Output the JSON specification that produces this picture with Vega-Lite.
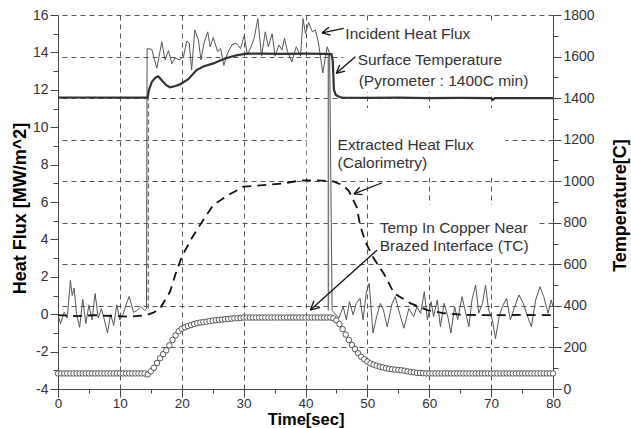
{
  "$schema": "https://vega.github.io/schema/vega-lite/v6.json",
  "width": 495,
  "height": 374,
  "autosize": {"type": "none"},
  "padding": {"left": 58, "top": 15, "right": 78, "bottom": 39},
  "background": "white",
  "config": {
    "view": {"stroke": null},
    "font": "Liberation Sans",
    "axis": {
      "labelFont": "Liberation Sans",
      "labelFontSize": 14,
      "labelColor": "#333",
      "titleFont": "Liberation Sans",
      "titleFontSize": 18,
      "titleFontWeight": "bold",
      "titleColor": "#000",
      "domainColor": "#444",
      "tickColor": "#444",
      "labelFlush": false,
      "labelOverlap": false,
      "labelPadding": 2,
      "gridColor": "#555",
      "gridDash": [5, 4],
      "gridWidth": 1
    }
  },
  "datasets": {
    "inc": [
      {"t": 0, "hf": 0.0}, {"t": 0.4, "hf": -0.5}, {"t": 1.0, "hf": 0.1}, {"t": 1.5, "hf": -0.2}, {"t": 2.0, "hf": 1.8}, {"t": 2.3, "hf": 1.0}, {"t": 2.6, "hf": 1.4}, {"t": 3.0, "hf": 0.0}, {"t": 3.5, "hf": -0.7}, {"t": 4.0, "hf": 0.8}, {"t": 4.5, "hf": -0.5}, {"t": 5.0, "hf": 0.5}, {"t": 5.5, "hf": -0.3}, {"t": 6.0, "hf": 1.1}, {"t": 6.5, "hf": -0.2}, {"t": 7.0, "hf": 0.3}, {"t": 7.5, "hf": -0.3}, {"t": 8.0, "hf": -1.0}, {"t": 8.5, "hf": 0.0}, {"t": 9.0, "hf": -0.6}, {"t": 9.5, "hf": 0.5}, {"t": 10.0, "hf": -0.3}, {"t": 10.5, "hf": 0.0}, {"t": 11.0, "hf": 0.5}, {"t": 11.5, "hf": 0.95}, {"t": 12.2, "hf": 0.1}, {"t": 12.8, "hf": 0.2}, {"t": 13.4, "hf": 0.4}, {"t": 14.0, "hf": 0.2}, {"t": 14.3, "hf": 0.3},
      {"t": 14.4, "hf": 14.2}, {"t": 15.15, "hf": 14.17}, {"t": 15.97, "hf": 13.15}, {"t": 16.78, "hf": 14.57}, {"t": 17.3, "hf": 13.6}, {"t": 17.85, "hf": 14.1}, {"t": 18.4, "hf": 13.4}, {"t": 18.9, "hf": 13.7}, {"t": 19.7, "hf": 13.6}, {"t": 20.3, "hf": 13.8}, {"t": 20.8, "hf": 14.6}, {"t": 21.2, "hf": 14.5}, {"t": 21.6, "hf": 13.06}, {"t": 22.1, "hf": 15.2}, {"t": 22.7, "hf": 14.66}, {"t": 23.1, "hf": 13.6}, {"t": 23.6, "hf": 14.5}, {"t": 24.2, "hf": 15.1}, {"t": 24.6, "hf": 14.3}, {"t": 25.1, "hf": 14.8}, {"t": 25.8, "hf": 14.04}, {"t": 26.3, "hf": 14.2}, {"t": 26.8, "hf": 13.3}, {"t": 27.4, "hf": 13.95}, {"t": 28.1, "hf": 14.4}, {"t": 28.8, "hf": 14.5}, {"t": 29.5, "hf": 14.2}, {"t": 30.1, "hf": 14.9}, {"t": 30.6, "hf": 13.86}, {"t": 31.2, "hf": 14.3}, {"t": 31.7, "hf": 14.75}, {"t": 32.3, "hf": 15.8}, {"t": 32.9, "hf": 13.8}, {"t": 33.5, "hf": 15.1}, {"t": 34.0, "hf": 14.3}, {"t": 34.6, "hf": 15.0}, {"t": 35.1, "hf": 13.8}, {"t": 35.7, "hf": 14.4}, {"t": 36.2, "hf": 14.13}, {"t": 36.6, "hf": 14.75}, {"t": 37.1, "hf": 14.04}, {"t": 37.8, "hf": 13.5}, {"t": 38.5, "hf": 14.3}, {"t": 39.2, "hf": 13.8}, {"t": 39.6, "hf": 15.8}, {"t": 40.0, "hf": 15.0}, {"t": 40.5, "hf": 15.6}, {"t": 41.1, "hf": 15.1}, {"t": 41.6, "hf": 15.2}, {"t": 42.1, "hf": 14.5}, {"t": 42.8, "hf": 12.9}, {"t": 43.5, "hf": 14.3}, {"t": 43.9, "hf": 13.95},
      {"t": 44.3, "hf": 0.2}, {"t": 44.7, "hf": 0.05}, {"t": 45.4, "hf": -0.2}, {"t": 46.1, "hf": 0.4}, {"t": 46.6, "hf": -0.3}, {"t": 47.1, "hf": 0.67}, {"t": 47.7, "hf": -0.04}, {"t": 48.2, "hf": 0.58}, {"t": 48.8, "hf": 0.85}, {"t": 49.3, "hf": -0.3}, {"t": 49.8, "hf": 1.1}, {"t": 50.3, "hf": 1.65}, {"t": 50.9, "hf": -1.0}, {"t": 51.5, "hf": -0.13}, {"t": 52.1, "hf": 0.58}, {"t": 52.6, "hf": 0.22}, {"t": 53.2, "hf": -0.67}, {"t": 54.0, "hf": 0.58}, {"t": 54.5, "hf": 0.94}, {"t": 55.2, "hf": 0.05}, {"t": 55.9, "hf": -0.75}, {"t": 56.7, "hf": 0.3}, {"t": 57.5, "hf": -0.13}, {"t": 58.0, "hf": 0.4}, {"t": 58.6, "hf": 0.05}, {"t": 59.2, "hf": 1.2}, {"t": 59.7, "hf": -0.3}, {"t": 60.3, "hf": 0.67}, {"t": 60.7, "hf": -0.13}, {"t": 61.3, "hf": 0.76}, {"t": 61.8, "hf": -0.67}, {"t": 62.4, "hf": 0.58}, {"t": 63.0, "hf": -0.13}, {"t": 63.5, "hf": -1.0}, {"t": 64.1, "hf": 0.4}, {"t": 64.6, "hf": -0.3}, {"t": 65.3, "hf": 0.94}, {"t": 65.9, "hf": 0.05}, {"t": 66.4, "hf": -0.67}, {"t": 66.9, "hf": 0.76}, {"t": 67.5, "hf": 1.56}, {"t": 68.0, "hf": 0.05}, {"t": 68.6, "hf": 0.58}, {"t": 69.1, "hf": 1.56}, {"t": 69.6, "hf": 0.22}, {"t": 70.2, "hf": -0.3}, {"t": 70.7, "hf": -1.3}, {"t": 71.3, "hf": -0.13}, {"t": 71.8, "hf": 0.4}, {"t": 72.5, "hf": 0.85}, {"t": 73.1, "hf": -0.3}, {"t": 73.8, "hf": 0.4}, {"t": 74.5, "hf": 1.03}, {"t": 75.2, "hf": 0.58}, {"t": 75.8, "hf": -0.04}, {"t": 76.5, "hf": -0.67}, {"t": 77.2, "hf": 0.76}, {"t": 77.9, "hf": 1.47}, {"t": 78.5, "hf": 0.94}, {"t": 79.2, "hf": 0.05}, {"t": 79.7, "hf": 0.76}, {"t": 80, "hf": 0.4}
    ],
    "ext": [
      {"t": 0, "hf": -0.05}, {"t": 3, "hf": -0.1}, {"t": 6, "hf": -0.05}, {"t": 9, "hf": -0.1}, {"t": 11.6, "hf": -0.13}, {"t": 14.3, "hf": -0.05}, {"t": 15.5, "hf": 0.1}, {"t": 16.5, "hf": 0.31}, {"t": 17.3, "hf": 0.76}, {"t": 18.1, "hf": 1.2}, {"t": 19.0, "hf": 2.15}, {"t": 20.0, "hf": 3.07}, {"t": 21.6, "hf": 4.06}, {"t": 23.3, "hf": 4.95}, {"t": 25.1, "hf": 5.84}, {"t": 27.5, "hf": 6.37}, {"t": 30.0, "hf": 6.82}, {"t": 33.2, "hf": 6.9}, {"t": 36.5, "hf": 7.0}, {"t": 39.2, "hf": 7.15}, {"t": 41.9, "hf": 7.16}, {"t": 44.5, "hf": 7.1}, {"t": 46.0, "hf": 6.9}, {"t": 47.0, "hf": 6.6}, {"t": 48.3, "hf": 5.7}, {"t": 48.8, "hf": 4.8}, {"t": 49.7, "hf": 3.85}, {"t": 51.0, "hf": 3.0}, {"t": 52.7, "hf": 2.15}, {"t": 54.3, "hf": 1.12}, {"t": 57.0, "hf": 0.58}, {"t": 59.7, "hf": 0.22}, {"t": 62.4, "hf": 0.05}, {"t": 66, "hf": -0.04}, {"t": 70, "hf": -0.05}, {"t": 75, "hf": -0.04}, {"t": 80, "hf": -0.05}
    ],
    "art": [
      {"seg": "a", "t": 14.6, "hf": 0.3}, {"seg": "a", "t": 14.6, "hf": 11.6},
      {"seg": "b", "t": 43.7, "hf": 13.9}, {"seg": "b", "t": 43.7, "hf": 0.2}
    ],
    "surf": [
      {"t": 0, "T": 1402}, {"t": 4, "T": 1403}, {"t": 8, "T": 1402}, {"t": 12, "T": 1403}, {"t": 14.3, "T": 1402}, {"t": 14.5, "T": 1404}, {"t": 14.7, "T": 1440}, {"t": 15.2, "T": 1480}, {"t": 15.8, "T": 1500}, {"t": 16.2, "T": 1505}, {"t": 16.8, "T": 1485}, {"t": 17.5, "T": 1462}, {"t": 18.1, "T": 1452}, {"t": 19.0, "T": 1458}, {"t": 19.7, "T": 1466}, {"t": 21.0, "T": 1490}, {"t": 22.4, "T": 1535}, {"t": 23.5, "T": 1552}, {"t": 25.1, "T": 1567}, {"t": 26.5, "T": 1585}, {"t": 27.8, "T": 1598}, {"t": 29.0, "T": 1607}, {"t": 30.5, "T": 1614}, {"t": 33, "T": 1614}, {"t": 36, "T": 1613}, {"t": 40, "T": 1614}, {"t": 43, "T": 1613}, {"t": 44.2, "T": 1612}, {"t": 44.4, "T": 1580}, {"t": 44.6, "T": 1440}, {"t": 44.9, "T": 1415}, {"t": 45.5, "T": 1405}, {"t": 46, "T": 1402}, {"t": 50, "T": 1401}, {"t": 55, "T": 1402}, {"t": 60, "T": 1400}, {"t": 65, "T": 1401}, {"t": 70, "T": 1400}, {"t": 70.3, "T": 1392}, {"t": 70.6, "T": 1400}, {"t": 75, "T": 1400}, {"t": 80, "T": 1400}
    ],
    "cu": [
      {"t": 0, "T": 75}, {"t": 0.5, "T": 75}, {"t": 1, "T": 75}, {"t": 1.5, "T": 75}, {"t": 2, "T": 75}, {"t": 2.5, "T": 75}, {"t": 3, "T": 75}, {"t": 3.5, "T": 75}, {"t": 4, "T": 75}, {"t": 4.5, "T": 75}, {"t": 5, "T": 75}, {"t": 5.5, "T": 75}, {"t": 6, "T": 75}, {"t": 6.5, "T": 75}, {"t": 7, "T": 75}, {"t": 7.5, "T": 75}, {"t": 8, "T": 75}, {"t": 8.5, "T": 75}, {"t": 9, "T": 75}, {"t": 9.5, "T": 75}, {"t": 10, "T": 75}, {"t": 10.5, "T": 75}, {"t": 11, "T": 75}, {"t": 11.5, "T": 75}, {"t": 12, "T": 75}, {"t": 12.5, "T": 75}, {"t": 13, "T": 75}, {"t": 13.5, "T": 75}, {"t": 14, "T": 75},
      {"t": 14.5, "T": 70}, {"t": 15, "T": 85}, {"t": 15.5, "T": 102}, {"t": 16, "T": 125}, {"t": 16.5, "T": 148}, {"t": 17, "T": 168}, {"t": 17.5, "T": 186}, {"t": 18, "T": 210}, {"t": 18.5, "T": 236}, {"t": 19, "T": 258}, {"t": 19.5, "T": 278}, {"t": 20, "T": 290}, {"t": 20.5, "T": 297}, {"t": 21, "T": 303}, {"t": 21.5, "T": 308}, {"t": 22, "T": 313}, {"t": 22.5, "T": 317}, {"t": 23, "T": 320}, {"t": 23.5, "T": 322}, {"t": 24, "T": 324}, {"t": 24.5, "T": 327}, {"t": 25, "T": 329}, {"t": 25.5, "T": 331}, {"t": 26, "T": 333}, {"t": 26.5, "T": 334}, {"t": 27, "T": 336}, {"t": 27.5, "T": 337}, {"t": 28, "T": 339}, {"t": 28.5, "T": 340}, {"t": 29, "T": 341}, {"t": 29.5, "T": 342},
      {"t": 30, "T": 344}, {"t": 30.5, "T": 344}, {"t": 31, "T": 344}, {"t": 31.5, "T": 344}, {"t": 32, "T": 344}, {"t": 32.5, "T": 344}, {"t": 33, "T": 344}, {"t": 33.5, "T": 344}, {"t": 34, "T": 344}, {"t": 34.5, "T": 344}, {"t": 35, "T": 344}, {"t": 35.5, "T": 344}, {"t": 36, "T": 344}, {"t": 36.5, "T": 344}, {"t": 37, "T": 344}, {"t": 37.5, "T": 344}, {"t": 38, "T": 344}, {"t": 38.5, "T": 344}, {"t": 39, "T": 344}, {"t": 39.5, "T": 344}, {"t": 40, "T": 344}, {"t": 40.5, "T": 344}, {"t": 41, "T": 344}, {"t": 41.5, "T": 344}, {"t": 42, "T": 344}, {"t": 42.5, "T": 344}, {"t": 43, "T": 344}, {"t": 43.5, "T": 344}, {"t": 44, "T": 344},
      {"t": 44.5, "T": 340}, {"t": 45, "T": 330}, {"t": 45.5, "T": 312}, {"t": 46, "T": 288}, {"t": 46.5, "T": 262}, {"t": 47, "T": 236}, {"t": 47.5, "T": 212}, {"t": 48, "T": 192}, {"t": 48.5, "T": 172}, {"t": 49, "T": 155}, {"t": 49.5, "T": 143}, {"t": 50, "T": 132}, {"t": 50.5, "T": 123}, {"t": 51, "T": 117}, {"t": 51.5, "T": 112}, {"t": 52, "T": 107}, {"t": 52.5, "T": 104}, {"t": 53, "T": 100}, {"t": 53.5, "T": 97}, {"t": 54, "T": 95}, {"t": 54.5, "T": 93}, {"t": 55, "T": 92}, {"t": 55.5, "T": 90}, {"t": 56, "T": 88}, {"t": 56.5, "T": 85}, {"t": 57, "T": 82}, {"t": 57.5, "T": 80}, {"t": 58, "T": 78}, {"t": 58.5, "T": 77}, {"t": 59, "T": 76}, {"t": 59.5, "T": 75},
      {"t": 60, "T": 75}, {"t": 60.5, "T": 75}, {"t": 61, "T": 75}, {"t": 61.5, "T": 75}, {"t": 62, "T": 75}, {"t": 62.5, "T": 75}, {"t": 63, "T": 75}, {"t": 63.5, "T": 75}, {"t": 64, "T": 75}, {"t": 64.5, "T": 75}, {"t": 65, "T": 75}, {"t": 65.5, "T": 75}, {"t": 66, "T": 75}, {"t": 66.5, "T": 75}, {"t": 67, "T": 75}, {"t": 67.5, "T": 75}, {"t": 68, "T": 75}, {"t": 68.5, "T": 75}, {"t": 69, "T": 75}, {"t": 69.5, "T": 75}, {"t": 70, "T": 75}, {"t": 70.5, "T": 75}, {"t": 71, "T": 75}, {"t": 71.5, "T": 75}, {"t": 72, "T": 75}, {"t": 72.5, "T": 75}, {"t": 73, "T": 75}, {"t": 73.5, "T": 75}, {"t": 74, "T": 75}, {"t": 74.5, "T": 75}, {"t": 75, "T": 75}, {"t": 75.5, "T": 75}, {"t": 76, "T": 75}, {"t": 76.5, "T": 75}, {"t": 77, "T": 75}, {"t": 77.5, "T": 75}, {"t": 78, "T": 75}, {"t": 78.5, "T": 75}, {"t": 79, "T": 75}, {"t": 79.5, "T": 75}, {"t": 80, "T": 75}
    ],
    "boxes": [
      {"t": 46.1, "t2": 80, "hf": 15.63, "hf2": 11.88},
      {"t": 40.2, "t2": 72.3, "hf": 11.03, "hf2": 7.28},
      {"t": 51.6, "t2": 77.3, "hf": 5.84, "hf2": 2.95}
    ],
    "ann": [
      {"label": "Incident Heat Flux", "t": 46.44, "hf": 14.70},
      {"label": "Surface Temperature", "t": 48.43, "hf": 13.33},
      {"label": "(Pyrometer : 1400C min)", "t": 48.59, "hf": 12.20},
      {"label": "Extracted Heat Flux", "t": 45.19, "hf": 8.78},
      {"label": "(Calorimetry)", "t": 45.19, "hf": 7.80},
      {"label": "Temp In Copper Near", "t": 51.99, "hf": 4.36},
      {"label": "Brazed Interface (TC)", "t": 51.99, "hf": 3.40}
    ],
    "arrows": [
      {"t": 46.17, "hf": 15.29, "t2": 42.67, "hf2": 15.05},
      {"t": 42.67, "hf": 15.05, "t2": 44.06, "hf2": 14.93},
      {"t": 42.67, "hf": 15.05, "t2": 43.80, "hf2": 15.35},
      {"t": 48.06, "hf": 13.77, "t2": 44.98, "hf2": 12.88},
      {"t": 44.98, "hf": 12.88, "t2": 46.39, "hf2": 13.0},
      {"t": 44.98, "hf": 12.88, "t2": 45.53, "hf2": 13.33},
      {"t": 52.38, "hf": 7.03, "t2": 47.83, "hf2": 6.43},
      {"t": 47.83, "hf": 6.43, "t2": 49.22, "hf2": 6.39},
      {"t": 47.83, "hf": 6.43, "t2": 48.74, "hf2": 6.79},
      {"t": 51.57, "hf": 3.43, "t2": 40.78, "hf2": 0.22},
      {"t": 40.78, "hf": 0.22, "t2": 42.35, "hf2": 0.36},
      {"t": 40.78, "hf": 0.22, "t2": 41.38, "hf2": 0.72}
    ]
  },
  "encoding": {
    "x": {
      "field": "t",
      "type": "quantitative",
      "scale": {"domain": [0, 80], "nice": false},
      "axis": {
        "title": "Time[sec]",
        "values": [0, 5, 10, 15, 20, 25, 30, 35, 40, 45, 50, 55, 60, 65, 70, 75, 80],
        "labelExpr": "datum.value % 10 === 0 ? '' + datum.value : ''",
        "tickSize": {"condition": {"test": "datum.value % 10 === 0", "value": 8}, "value": 4},
        "labelFontSize": 13.5,
        "labelPadding": -1,
        "grid": true,
        "gridOpacity": {"condition": {"test": "datum.value % 10 === 0 && datum.value > 0 && datum.value < 80", "value": 1}, "value": 0},
        "titleFontSize": 16.5,
        "titleY": 35.5,
        "titleBaseline": "alphabetic"
      }
    }
  },
  "layer": [
    {
      "encoding": {
        "y": {
          "field": "hf",
          "type": "quantitative",
          "scale": {"domain": [-4, 16], "nice": false, "zero": false},
          "axis": {
            "title": "Heat Flux [MW/m^2]",
            "orient": "left",
            "values": [-4, -3, -2, -1, 0, 1, 2, 3, 4, 5, 6, 7, 8, 9, 10, 11, 12, 13, 14, 15, 16],
            "labelExpr": "datum.value % 2 === 0 ? '' + datum.value : ''",
            "tickSize": {"condition": {"test": "datum.value % 2 === 0", "value": 8}, "value": 5},
            "grid": false,
            "titleAngle": 270,
            "titleX": -33,
            "titleY": 193,
            "titleAlign": "center",
            "titleBaseline": "alphabetic"
          }
        }
      },
      "layer": [
        {
          "data": {"name": "boxes"},
          "mark": {"type": "rect", "fill": "white", "stroke": null},
          "encoding": {"x2": {"field": "t2"}, "y2": {"field": "hf2"}}
        },
        {
          "data": {"name": "art"},
          "mark": {"type": "line", "color": "#777", "strokeWidth": 1.5},
          "encoding": {
            "detail": {"field": "seg"},
            "strokeDash": {"field": "seg", "type": "nominal", "scale": {"domain": ["a", "b"], "range": [[5, 3], [1, 0]]}, "legend": null}
          }
        },
        {
          "data": {"name": "inc"},
          "mark": {"type": "line", "color": "#555", "strokeWidth": 1}
        },
        {
          "data": {"name": "ext"},
          "mark": {"type": "line", "color": "#111", "strokeWidth": 1.8, "strokeDash": [9, 6]}
        },
        {
          "data": {"name": "arrows"},
          "mark": {"type": "rule", "color": "#111", "strokeWidth": 1.3},
          "encoding": {"x2": {"field": "t2"}, "y2": {"field": "hf2"}}
        },
        {
          "data": {"name": "ann"},
          "mark": {"type": "text", "align": "left", "baseline": "alphabetic", "fontSize": 15.5, "color": "#333", "font": "Liberation Sans"},
          "encoding": {"text": {"field": "label"}}
        }
      ]
    },
    {
      "encoding": {
        "y": {
          "field": "T",
          "type": "quantitative",
          "scale": {"domain": [0, 1800], "nice": false},
          "axis": {
            "title": "Temperature[C]",
            "orient": "right",
            "values": [0, 100, 200, 300, 400, 500, 600, 700, 800, 900, 1000, 1100, 1200, 1300, 1400, 1500, 1600, 1700, 1800],
            "labelExpr": "datum.value % 200 === 0 ? '' + datum.value : ''",
            "tickSize": {"condition": {"test": "datum.value % 200 === 0", "value": 8}, "value": 5},
            "grid": true,
            "gridOpacity": {"condition": {"test": "datum.value % 200 === 0 && datum.value > 0", "value": 1}, "value": 0},
            "titleAngle": 270,
            "titleX": 72,
            "titleY": 190,
            "titleAlign": "center",
            "titleBaseline": "alphabetic"
          }
        }
      },
      "layer": [
        {
          "data": {"name": "surf"},
          "mark": {"type": "line", "color": "#333", "strokeWidth": 2.2}
        },
        {
          "data": {"name": "cu"},
          "mark": {"type": "point", "shape": "circle", "size": 30, "filled": true, "fill": "white", "stroke": "#444", "strokeWidth": 0.9, "opacity": 1}
        }
      ]
    }
  ],
  "resolve": {"scale": {"y": "independent"}}
}
